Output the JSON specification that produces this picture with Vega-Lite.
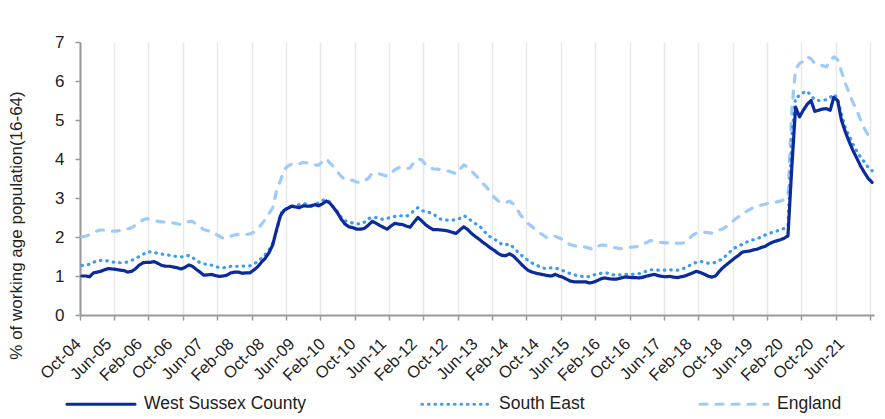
{
"$schema": "https://vega.github.io/schema/vega-lite/v6.json",
"width": 794,
"height": 273,
"autosize": {"type": "none"},
"padding": {"left": 80, "top": 42, "right": 11, "bottom": 104},
"background": "white",
"config": {"view": {"stroke": null}, "font": "Liberation Sans"},
"data": {"values": [
{"month":"2004-10","West Sussex County":1.00,"South East":1.27,"England":2.00},
{"month":"2004-11","West Sussex County":1.00,"South East":1.28,"England":2.02},
{"month":"2004-12","West Sussex County":0.98,"South East":1.30,"England":2.06},
{"month":"2005-01","West Sussex County":1.08,"South East":1.35,"England":2.10},
{"month":"2005-02","West Sussex County":1.10,"South East":1.40,"England":2.16},
{"month":"2005-03","West Sussex County":1.12,"South East":1.40,"England":2.18},
{"month":"2005-04","West Sussex County":1.16,"South East":1.40,"England":2.18},
{"month":"2005-05","West Sussex County":1.19,"South East":1.38,"England":2.17},
{"month":"2005-06","West Sussex County":1.18,"South East":1.36,"England":2.15},
{"month":"2005-07","West Sussex County":1.17,"South East":1.35,"England":2.15},
{"month":"2005-08","West Sussex County":1.15,"South East":1.34,"England":2.17},
{"month":"2005-09","West Sussex County":1.14,"South East":1.34,"England":2.19},
{"month":"2005-10","West Sussex County":1.10,"South East":1.36,"England":2.21},
{"month":"2005-11","West Sussex County":1.12,"South East":1.40,"England":2.24},
{"month":"2005-12","West Sussex County":1.18,"South East":1.45,"England":2.30},
{"month":"2006-01","West Sussex County":1.28,"South East":1.50,"England":2.38},
{"month":"2006-02","West Sussex County":1.34,"South East":1.55,"England":2.44},
{"month":"2006-03","West Sussex County":1.35,"South East":1.62,"England":2.47},
{"month":"2006-04","West Sussex County":1.35,"South East":1.62,"England":2.45},
{"month":"2006-05","West Sussex County":1.37,"South East":1.60,"England":2.43},
{"month":"2006-06","West Sussex County":1.32,"South East":1.58,"England":2.40},
{"month":"2006-07","West Sussex County":1.27,"South East":1.56,"England":2.39},
{"month":"2006-08","West Sussex County":1.25,"South East":1.55,"England":2.38},
{"month":"2006-09","West Sussex County":1.25,"South East":1.53,"England":2.37},
{"month":"2006-10","West Sussex County":1.23,"South East":1.51,"England":2.36},
{"month":"2006-11","West Sussex County":1.21,"South East":1.50,"England":2.34},
{"month":"2006-12","West Sussex County":1.18,"South East":1.49,"England":2.32},
{"month":"2007-01","West Sussex County":1.22,"South East":1.50,"England":2.36},
{"month":"2007-02","West Sussex County":1.28,"South East":1.53,"England":2.40},
{"month":"2007-03","West Sussex County":1.25,"South East":1.48,"England":2.40},
{"month":"2007-04","West Sussex County":1.17,"South East":1.40,"England":2.33},
{"month":"2007-05","West Sussex County":1.10,"South East":1.34,"England":2.26},
{"month":"2007-06","West Sussex County":1.02,"South East":1.31,"England":2.19},
{"month":"2007-07","West Sussex County":1.03,"South East":1.30,"England":2.16},
{"month":"2007-08","West Sussex County":1.04,"South East":1.28,"England":2.14},
{"month":"2007-09","West Sussex County":1.01,"South East":1.24,"England":2.08},
{"month":"2007-10","West Sussex County":0.99,"South East":1.22,"England":2.02},
{"month":"2007-11","West Sussex County":1.00,"South East":1.21,"England":1.97},
{"month":"2007-12","West Sussex County":1.02,"South East":1.22,"England":1.98},
{"month":"2008-01","West Sussex County":1.08,"South East":1.25,"England":2.02},
{"month":"2008-02","West Sussex County":1.10,"South East":1.25,"England":2.05},
{"month":"2008-03","West Sussex County":1.10,"South East":1.25,"England":2.07},
{"month":"2008-04","West Sussex County":1.07,"South East":1.25,"England":2.07},
{"month":"2008-05","West Sussex County":1.08,"South East":1.26,"England":2.06},
{"month":"2008-06","West Sussex County":1.08,"South East":1.26,"England":2.08},
{"month":"2008-07","West Sussex County":1.15,"South East":1.30,"England":2.12},
{"month":"2008-08","West Sussex County":1.23,"South East":1.37,"England":2.20},
{"month":"2008-09","West Sussex County":1.35,"South East":1.45,"England":2.32},
{"month":"2008-10","West Sussex County":1.45,"South East":1.55,"England":2.45},
{"month":"2008-11","West Sussex County":1.60,"South East":1.66,"England":2.60},
{"month":"2008-12","West Sussex County":1.80,"South East":1.85,"England":2.75},
{"month":"2009-01","West Sussex County":2.20,"South East":2.15,"England":3.20},
{"month":"2009-02","West Sussex County":2.55,"South East":2.60,"England":3.45},
{"month":"2009-03","West Sussex County":2.68,"South East":2.70,"England":3.72},
{"month":"2009-04","West Sussex County":2.74,"South East":2.75,"England":3.82},
{"month":"2009-05","West Sussex County":2.79,"South East":2.79,"England":3.87},
{"month":"2009-06","West Sussex County":2.77,"South East":2.80,"England":3.87},
{"month":"2009-07","West Sussex County":2.75,"South East":2.83,"England":3.88},
{"month":"2009-08","West Sussex County":2.80,"South East":2.86,"England":3.91},
{"month":"2009-09","West Sussex County":2.79,"South East":2.84,"England":3.90},
{"month":"2009-10","West Sussex County":2.79,"South East":2.81,"England":3.87},
{"month":"2009-11","West Sussex County":2.83,"South East":2.83,"England":3.85},
{"month":"2009-12","West Sussex County":2.80,"South East":2.88,"England":3.84},
{"month":"2010-01","West Sussex County":2.85,"South East":2.94,"England":3.93},
{"month":"2010-02","West Sussex County":2.92,"South East":2.96,"England":4.01},
{"month":"2010-03","West Sussex County":2.87,"South East":2.90,"England":3.90},
{"month":"2010-04","West Sussex County":2.75,"South East":2.75,"England":3.80},
{"month":"2010-05","West Sussex County":2.62,"South East":2.65,"England":3.67},
{"month":"2010-06","West Sussex County":2.45,"South East":2.50,"England":3.55},
{"month":"2010-07","West Sussex County":2.33,"South East":2.42,"England":3.47},
{"month":"2010-08","West Sussex County":2.26,"South East":2.38,"England":3.47},
{"month":"2010-09","West Sussex County":2.24,"South East":2.36,"England":3.45},
{"month":"2010-10","West Sussex County":2.20,"South East":2.34,"England":3.41},
{"month":"2010-11","West Sussex County":2.20,"South East":2.33,"England":3.39},
{"month":"2010-12","West Sussex County":2.22,"South East":2.38,"England":3.45},
{"month":"2011-01","West Sussex County":2.30,"South East":2.47,"England":3.50},
{"month":"2011-02","West Sussex County":2.40,"South East":2.50,"England":3.63},
{"month":"2011-03","West Sussex County":2.36,"South East":2.50,"England":3.63},
{"month":"2011-04","West Sussex County":2.30,"South East":2.47,"England":3.62},
{"month":"2011-05","West Sussex County":2.25,"South East":2.45,"England":3.59},
{"month":"2011-06","West Sussex County":2.20,"South East":2.48,"England":3.56},
{"month":"2011-07","West Sussex County":2.28,"South East":2.50,"England":3.64},
{"month":"2011-08","West Sussex County":2.35,"South East":2.53,"England":3.72},
{"month":"2011-09","West Sussex County":2.33,"South East":2.55,"England":3.78},
{"month":"2011-10","West Sussex County":2.32,"South East":2.54,"England":3.76},
{"month":"2011-11","West Sussex County":2.28,"South East":2.53,"England":3.75},
{"month":"2011-12","West Sussex County":2.25,"South East":2.58,"England":3.77},
{"month":"2012-01","West Sussex County":2.38,"South East":2.68,"England":3.92},
{"month":"2012-02","West Sussex County":2.50,"South East":2.75,"England":4.00},
{"month":"2012-03","West Sussex County":2.42,"South East":2.68,"England":3.98},
{"month":"2012-04","West Sussex County":2.32,"South East":2.65,"England":3.86},
{"month":"2012-05","West Sussex County":2.25,"South East":2.63,"England":3.78},
{"month":"2012-06","West Sussex County":2.19,"South East":2.60,"England":3.75},
{"month":"2012-07","West Sussex County":2.19,"South East":2.52,"England":3.74},
{"month":"2012-08","West Sussex County":2.18,"South East":2.46,"England":3.73},
{"month":"2012-09","West Sussex County":2.17,"South East":2.44,"England":3.71},
{"month":"2012-10","West Sussex County":2.15,"South East":2.43,"England":3.69},
{"month":"2012-11","West Sussex County":2.12,"South East":2.43,"England":3.66},
{"month":"2012-12","West Sussex County":2.09,"South East":2.45,"England":3.62},
{"month":"2013-01","West Sussex County":2.18,"South East":2.48,"England":3.73},
{"month":"2013-02","West Sussex County":2.26,"South East":2.55,"England":3.85},
{"month":"2013-03","West Sussex County":2.20,"South East":2.50,"England":3.80},
{"month":"2013-04","West Sussex County":2.10,"South East":2.42,"England":3.70},
{"month":"2013-05","West Sussex County":2.02,"South East":2.35,"England":3.60},
{"month":"2013-06","West Sussex County":1.95,"South East":2.30,"England":3.50},
{"month":"2013-07","West Sussex County":1.87,"South East":2.20,"England":3.38},
{"month":"2013-08","West Sussex County":1.80,"South East":2.08,"England":3.28},
{"month":"2013-09","West Sussex County":1.72,"South East":2.00,"England":3.15},
{"month":"2013-10","West Sussex County":1.66,"South East":1.94,"England":3.02},
{"month":"2013-11","West Sussex County":1.58,"South East":1.90,"England":2.93},
{"month":"2013-12","West Sussex County":1.53,"South East":1.81,"England":2.88},
{"month":"2014-01","West Sussex County":1.52,"South East":1.80,"England":2.88},
{"month":"2014-02","West Sussex County":1.57,"South East":1.82,"England":2.92},
{"month":"2014-03","West Sussex County":1.52,"South East":1.74,"England":2.85},
{"month":"2014-04","West Sussex County":1.42,"South East":1.64,"England":2.72},
{"month":"2014-05","West Sussex County":1.32,"South East":1.55,"England":2.56},
{"month":"2014-06","West Sussex County":1.22,"South East":1.46,"England":2.45},
{"month":"2014-07","West Sussex County":1.14,"South East":1.40,"England":2.34},
{"month":"2014-08","West Sussex County":1.10,"South East":1.33,"England":2.26},
{"month":"2014-09","West Sussex County":1.07,"South East":1.28,"England":2.18},
{"month":"2014-10","West Sussex County":1.05,"South East":1.24,"England":2.10},
{"month":"2014-11","West Sussex County":1.03,"South East":1.20,"England":2.04},
{"month":"2014-12","West Sussex County":1.01,"South East":1.19,"England":1.97},
{"month":"2015-01","West Sussex County":1.00,"South East":1.21,"England":2.01},
{"month":"2015-02","West Sussex County":1.04,"South East":1.20,"England":2.02},
{"month":"2015-03","West Sussex County":1.00,"South East":1.18,"England":1.98},
{"month":"2015-04","West Sussex County":0.97,"South East":1.14,"England":1.93},
{"month":"2015-05","West Sussex County":0.92,"South East":1.10,"England":1.87},
{"month":"2015-06","West Sussex County":0.87,"South East":1.06,"England":1.80},
{"month":"2015-07","West Sussex County":0.85,"South East":1.03,"England":1.78},
{"month":"2015-08","West Sussex County":0.85,"South East":1.01,"England":1.76},
{"month":"2015-09","West Sussex County":0.85,"South East":0.99,"England":1.75},
{"month":"2015-10","West Sussex County":0.85,"South East":0.97,"England":1.74},
{"month":"2015-11","West Sussex County":0.82,"South East":0.99,"England":1.71},
{"month":"2015-12","West Sussex County":0.84,"South East":1.02,"England":1.68},
{"month":"2016-01","West Sussex County":0.88,"South East":1.06,"England":1.76},
{"month":"2016-02","West Sussex County":0.93,"South East":1.07,"England":1.79},
{"month":"2016-03","West Sussex County":0.95,"South East":1.08,"England":1.79},
{"month":"2016-04","West Sussex County":0.93,"South East":1.07,"England":1.76},
{"month":"2016-05","West Sussex County":0.92,"South East":1.03,"England":1.73},
{"month":"2016-06","West Sussex County":0.92,"South East":1.02,"England":1.72},
{"month":"2016-07","West Sussex County":0.94,"South East":1.03,"England":1.70},
{"month":"2016-08","West Sussex County":0.97,"South East":1.04,"England":1.71},
{"month":"2016-09","West Sussex County":0.97,"South East":1.04,"England":1.73},
{"month":"2016-10","West Sussex County":0.96,"South East":1.04,"England":1.74},
{"month":"2016-11","West Sussex County":0.96,"South East":1.05,"England":1.75},
{"month":"2016-12","West Sussex County":0.95,"South East":1.06,"England":1.76},
{"month":"2017-01","West Sussex County":0.97,"South East":1.09,"England":1.82},
{"month":"2017-02","West Sussex County":1.00,"South East":1.13,"England":1.86},
{"month":"2017-03","West Sussex County":1.02,"South East":1.16,"England":1.91},
{"month":"2017-04","West Sussex County":1.04,"South East":1.16,"England":1.90},
{"month":"2017-05","West Sussex County":1.01,"South East":1.15,"England":1.87},
{"month":"2017-06","West Sussex County":0.99,"South East":1.15,"England":1.86},
{"month":"2017-07","West Sussex County":0.98,"South East":1.15,"England":1.85},
{"month":"2017-08","West Sussex County":0.99,"South East":1.16,"England":1.85},
{"month":"2017-09","West Sussex County":0.97,"South East":1.15,"England":1.86},
{"month":"2017-10","West Sussex County":0.96,"South East":1.15,"England":1.84},
{"month":"2017-11","West Sussex County":0.98,"South East":1.17,"England":1.84},
{"month":"2017-12","West Sussex County":1.00,"South East":1.21,"England":1.86},
{"month":"2018-01","West Sussex County":1.04,"South East":1.26,"England":1.95},
{"month":"2018-02","West Sussex County":1.08,"South East":1.31,"England":2.05},
{"month":"2018-03","West Sussex County":1.12,"South East":1.35,"England":2.10},
{"month":"2018-04","West Sussex County":1.09,"South East":1.38,"England":2.13},
{"month":"2018-05","West Sussex County":1.05,"South East":1.35,"England":2.12},
{"month":"2018-06","West Sussex County":1.00,"South East":1.33,"England":2.11},
{"month":"2018-07","West Sussex County":0.97,"South East":1.33,"England":2.10},
{"month":"2018-08","West Sussex County":1.00,"South East":1.35,"England":2.14},
{"month":"2018-09","West Sussex County":1.12,"South East":1.40,"England":2.18},
{"month":"2018-10","West Sussex County":1.22,"South East":1.45,"England":2.21},
{"month":"2018-11","West Sussex County":1.30,"South East":1.55,"England":2.28},
{"month":"2018-12","West Sussex County":1.38,"South East":1.64,"England":2.35},
{"month":"2019-01","West Sussex County":1.46,"South East":1.72,"England":2.45},
{"month":"2019-02","West Sussex County":1.53,"South East":1.77,"England":2.52},
{"month":"2019-03","West Sussex County":1.61,"South East":1.81,"England":2.58},
{"month":"2019-04","West Sussex County":1.63,"South East":1.86,"England":2.65},
{"month":"2019-05","West Sussex County":1.64,"South East":1.91,"England":2.70},
{"month":"2019-06","West Sussex County":1.67,"South East":1.93,"England":2.76},
{"month":"2019-07","West Sussex County":1.69,"South East":1.96,"England":2.79},
{"month":"2019-08","West Sussex County":1.73,"South East":2.00,"England":2.82},
{"month":"2019-09","West Sussex County":1.76,"South East":2.05,"England":2.84},
{"month":"2019-10","West Sussex County":1.82,"South East":2.09,"England":2.87},
{"month":"2019-11","West Sussex County":1.87,"South East":2.12,"England":2.89},
{"month":"2019-12","West Sussex County":1.90,"South East":2.15,"England":2.90},
{"month":"2020-01","West Sussex County":1.93,"South East":2.19,"England":2.92},
{"month":"2020-02","West Sussex County":1.97,"South East":2.22,"England":2.96},
{"month":"2020-03","West Sussex County":2.03,"South East":2.32,"England":3.02},
{"month":"2020-04","West Sussex County":3.80,"South East":4.60,"England":5.30},
{"month":"2020-05","West Sussex County":5.33,"South East":5.58,"England":6.30},
{"month":"2020-06","West Sussex County":5.08,"South East":5.62,"England":6.45},
{"month":"2020-07","West Sussex County":5.25,"South East":5.70,"England":6.50},
{"month":"2020-08","West Sussex County":5.40,"South East":5.74,"England":6.62},
{"month":"2020-09","West Sussex County":5.50,"South East":5.62,"England":6.57},
{"month":"2020-10","West Sussex County":5.22,"South East":5.52,"England":6.45},
{"month":"2020-11","West Sussex County":5.25,"South East":5.50,"England":6.40},
{"month":"2020-12","West Sussex County":5.28,"South East":5.50,"England":6.40},
{"month":"2021-01","West Sussex County":5.29,"South East":5.52,"England":6.36},
{"month":"2021-02","West Sussex County":5.25,"South East":5.58,"England":6.52},
{"month":"2021-03","West Sussex County":5.58,"South East":5.66,"England":6.62},
{"month":"2021-04","West Sussex County":5.50,"South East":5.55,"England":6.55},
{"month":"2021-05","West Sussex County":5.00,"South East":5.15,"England":6.25},
{"month":"2021-06","West Sussex County":4.70,"South East":4.80,"England":5.95},
{"month":"2021-07","West Sussex County":4.45,"South East":4.60,"England":5.70},
{"month":"2021-08","West Sussex County":4.22,"South East":4.38,"England":5.45},
{"month":"2021-09","West Sussex County":4.02,"South East":4.20,"England":5.25},
{"month":"2021-10","West Sussex County":3.82,"South East":4.05,"England":5.00},
{"month":"2021-11","West Sussex County":3.65,"South East":3.92,"England":4.78},
{"month":"2021-12","West Sussex County":3.50,"South East":3.78,"England":4.60},
{"month":"2022-01","West Sussex County":3.40,"South East":3.70,"England":4.48}
]},
"transform": [{"fold": ["England", "South East", "West Sussex County"], "as": ["series", "value"]}],
"mark": {"type": "line", "strokeWidth": 3.2, "strokeCap": "round", "strokeJoin": "round"},
"encoding": {
  "x": {
    "field": "month", "type": "temporal",
    "scale": {"type": "utc", "domain": [{"year": 2004, "month": 9, "date": 16, "utc": true}, {"year": 2022, "month": 1, "date": 16, "utc": true}]},
    "axis": {
      "title": null,
      "values": [
        {"year": 2004, "month": 9, "date": 16, "utc": true},
        {"year": 2005, "month": 6, "date": 16, "utc": true},
        {"year": 2006, "month": 3, "date": 16, "utc": true},
        {"year": 2006, "month": 12, "date": 16, "utc": true},
        {"year": 2007, "month": 9, "date": 16, "utc": true},
        {"year": 2008, "month": 6, "date": 16, "utc": true},
        {"year": 2009, "month": 3, "date": 16, "utc": true},
        {"year": 2009, "month": 12, "date": 16, "utc": true},
        {"year": 2010, "month": 9, "date": 16, "utc": true},
        {"year": 2011, "month": 6, "date": 16, "utc": true},
        {"year": 2012, "month": 3, "date": 16, "utc": true},
        {"year": 2012, "month": 12, "date": 16, "utc": true},
        {"year": 2013, "month": 9, "date": 16, "utc": true},
        {"year": 2014, "month": 6, "date": 16, "utc": true},
        {"year": 2015, "month": 3, "date": 16, "utc": true},
        {"year": 2015, "month": 12, "date": 16, "utc": true},
        {"year": 2016, "month": 9, "date": 16, "utc": true},
        {"year": 2017, "month": 6, "date": 16, "utc": true},
        {"year": 2018, "month": 3, "date": 16, "utc": true},
        {"year": 2018, "month": 12, "date": 16, "utc": true},
        {"year": 2019, "month": 9, "date": 16, "utc": true},
        {"year": 2020, "month": 6, "date": 16, "utc": true},
        {"year": 2021, "month": 3, "date": 16, "utc": true},
        {"year": 2021, "month": 12, "date": 16, "utc": true},
        {"year": 2004, "month": 10, "date": 1, "utc": true},
        {"year": 2005, "month": 6, "date": 1, "utc": true},
        {"year": 2006, "month": 2, "date": 1, "utc": true},
        {"year": 2006, "month": 10, "date": 1, "utc": true},
        {"year": 2007, "month": 6, "date": 1, "utc": true},
        {"year": 2008, "month": 2, "date": 1, "utc": true},
        {"year": 2008, "month": 10, "date": 1, "utc": true},
        {"year": 2009, "month": 6, "date": 1, "utc": true},
        {"year": 2010, "month": 2, "date": 1, "utc": true},
        {"year": 2010, "month": 10, "date": 1, "utc": true},
        {"year": 2011, "month": 6, "date": 1, "utc": true},
        {"year": 2012, "month": 2, "date": 1, "utc": true},
        {"year": 2012, "month": 10, "date": 1, "utc": true},
        {"year": 2013, "month": 6, "date": 1, "utc": true},
        {"year": 2014, "month": 2, "date": 1, "utc": true},
        {"year": 2014, "month": 10, "date": 1, "utc": true},
        {"year": 2015, "month": 6, "date": 1, "utc": true},
        {"year": 2016, "month": 2, "date": 1, "utc": true},
        {"year": 2016, "month": 10, "date": 1, "utc": true},
        {"year": 2017, "month": 6, "date": 1, "utc": true},
        {"year": 2018, "month": 2, "date": 1, "utc": true},
        {"year": 2018, "month": 10, "date": 1, "utc": true},
        {"year": 2019, "month": 6, "date": 1, "utc": true},
        {"year": 2020, "month": 2, "date": 1, "utc": true},
        {"year": 2020, "month": 10, "date": 1, "utc": true},
        {"year": 2021, "month": 6, "date": 1, "utc": true}
      ],
      "labelExpr": "utcdate(datum.value) === 1 ? utcFormat(datum.value, '%b-%y') : ''",
      "labelAngle": -45,
      "labelAlign": "right",
      "labelBaseline": "middle",
      "labelPadding": 21,
      "labelOffset": -4,
      "labelFont": "Liberation Sans",
      "labelFontSize": 16.5,
      "labelColor": "#222222",
      "labelOverlap": false,
      "labelFlush": false,
      "labelBound": false,
      "grid": true,
      "gridColor": "#e8e8e8",
      "gridWidth": 1.5,
      "gridOpacity": {"condition": {"test": "utcdate(datum.value) === 16", "value": 1}, "value": 0},
      "ticks": true,
      "tickSize": 5,
      "tickColor": "#999999",
      "tickWidth": 1.5,
      "tickOpacity": {"condition": {"test": "utcdate(datum.value) === 16", "value": 1}, "value": 0},
      "domainColor": "#999999",
      "domainWidth": 2
    }
  },
  "y": {
    "field": "value", "type": "quantitative",
    "scale": {"domain": [0, 7], "nice": false},
    "axis": {
      "values": [0, 1, 2, 3, 4, 5, 6, 7],
      "grid": false,
      "tickSize": 5,
      "tickColor": "#999999",
      "tickWidth": 1.5,
      "domainColor": "#999999",
      "domainWidth": 2,
      "labelFont": "Liberation Sans",
      "labelFontSize": 17,
      "labelColor": "#222222",
      "labelPadding": 11,
      "title": "% of working age population(16-64)",
      "titleFont": "Liberation Sans",
      "titleFontSize": 17,
      "titleFontWeight": "normal",
      "titleColor": "#222222",
      "titleAngle": -90,
      "titleX": -64,
      "titleY": 183,
      "titleAlign": "center",
      "titleBaseline": "middle"
    }
  },
  "color": {
    "field": "series", "type": "nominal",
    "scale": {"domain": ["West Sussex County", "South East", "England"], "range": ["#0b2b9c", "#3d9cf2", "#9dcbfa"]},
    "legend": {"orient": "none", "legendX": -15, "legendY": 326, "direction": "horizontal", "columns": 3, "title": null, "padding": 0, "symbolType": "stroke", "symbolSize": 4624, "symbolStrokeWidth": 3.2, "labelFont": "Liberation Sans", "labelFontSize": 17.5, "labelColor": "#222222", "labelOffset": 7, "labelLimit": 400, "columnPadding": 108, "encode": {"symbols": {"update": {"strokeCap": {"value": "round"}}}}}
  },
  "strokeDash": {
    "field": "series", "type": "nominal",
    "scale": {"domain": ["West Sussex County", "South East", "England"], "range": [[1, 0], [0.5, 6], [7, 9]]},
    "legend": {"orient": "none", "legendX": -15, "legendY": 326, "direction": "horizontal", "columns": 3, "title": null, "padding": 0, "symbolType": "stroke", "symbolSize": 4624, "symbolStrokeWidth": 3.2, "labelFont": "Liberation Sans", "labelFontSize": 17.5, "labelColor": "#222222", "labelOffset": 7, "labelLimit": 400, "columnPadding": 108, "encode": {"symbols": {"update": {"strokeCap": {"value": "round"}}}}}
  }
}
}
